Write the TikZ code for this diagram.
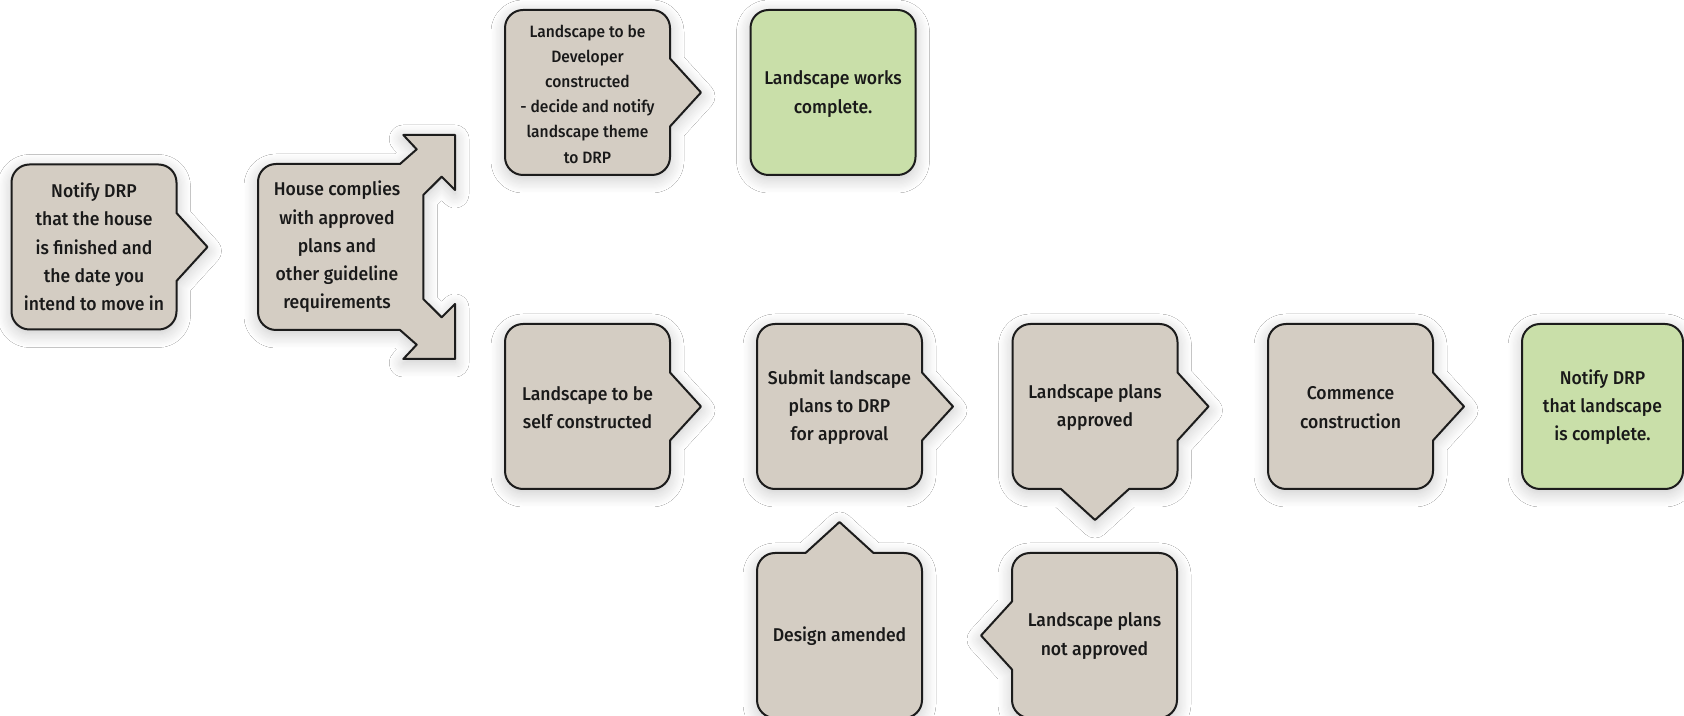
\documentclass[tikz,border=0pt]{standalone}
\usepackage{fontspec}
\setmainfont{Fira Sans Medium}[FakeStretch=0.95]
\usetikzlibrary{shadows.blur}
\definecolor{boxgray}{HTML}{D4CDC3}
\definecolor{boxgreen}{HTML}{C9DFA9}
\definecolor{edge}{HTML}{1C1C1C}
\tikzset{
  shp/.style={fill=#1, draw=edge, line width=2pt, line join=round,
    blur shadow={shadow xshift=0pt, shadow yshift=-4pt, shadow blur radius=14pt, shadow opacity=22, shadow blur steps=12}},
  lbl/.style={align=center, text=black!90, font=\fontsize{18.5}{28.3}\selectfont, inner sep=0pt},
  lblsmall/.style={lbl, font=\fontsize{16.4}{25.2}\selectfont}
}
% #1 centre, #2 half width, #3 fill, #4 bottom insert, #5 right insert, #6 top insert, #7 left insert
\newcommand\callout[7]{%
  \begin{scope}[shift={#1}]
    \path[shp=#3] (-#2+18,-82.5) #4 -- (#2-18,-82.5) arc[start angle=-90,end angle=0,radius=18]
      #5 -- (#2,82.5-18) arc[start angle=0,end angle=90,radius=18]
      #6 -- (-#2+18,82.5) arc[start angle=90,end angle=180,radius=18]
      #7 -- (-#2,-82.5+18) arc[start angle=180,end angle=270,radius=18] -- cycle;
  \end{scope}}
\newcommand\Rarrow{-- (82.5,-34) -- (113.5,0) -- (82.5,34)}
\newcommand\Tarrow{-- (34,82.5) -- (0,113.5) -- (-34,82.5)}
\newcommand\Larrow{-- (-82.5,34) -- (-113.5,0) -- (-82.5,-34)}
\newcommand\Barrow{-- (-34,-82.5) -- (0,-113.5) -- (34,-82.5)}
\begin{document}
\begin{tikzpicture}[x=1pt,y=1pt]
\fill[white] (0,0) rectangle (1684,715);
\useasboundingbox (0,0) rectangle (1684,715);

% shapes
\callout{(94,468)}{82.5}{boxgray}{}{\Rarrow}{}{}
\path[shp=boxgray] (258,533) arc[start angle=180,end angle=90,radius=18]
  -- (400,551) -- (416.7,565.7) -- (403.3,580) -- (455,580) -- (455,525)
  -- (441.7,538.3) -- (423.3,520) -- (423.3,416) -- (441.7,397.7) -- (455,411)
  -- (455,356) -- (403.3,356) -- (416.7,370.3) -- (400,385) -- (276,385)
  arc[start angle=270,end angle=180,radius=18] -- cycle;
\callout{(587.5,622.5)}{82.5}{boxgray}{}{\Rarrow}{}{}
\callout{(833,622.5)}{82.5}{boxgreen}{}{}{}{}
\callout{(587.5,308.5)}{82.5}{boxgray}{}{\Rarrow}{}{}
\callout{(839.5,308.5)}{82.5}{boxgray}{}{\Rarrow}{}{}
\callout{(1095,308.5)}{82.5}{boxgray}{\Barrow}{\Rarrow}{}{}
\callout{(1350.5,308.5)}{82.5}{boxgray}{}{\Rarrow}{}{}
\callout{(1602.5,308.5)}{80.5}{boxgreen}{}{}{}{}
\callout{(839.5,79.5)}{82.5}{boxgray}{}{}{\Tarrow}{}
\callout{(1094.5,79.5)}{82.5}{boxgray}{}{}{}{\Larrow}

% labels
\node[lbl] (notify) at (94,468) {Notify DRP\\that the house\\is finished and\\the date you\\intend to move in};
\node[lbl] (complies) at (337,468) {House complies\\with approved\\plans and\\other guideline\\requirements};
\node[lblsmall] (developer) at (587.5,621) {Landscape to be\\Developer\\constructed\\- decide and notify\\landscape theme\\to DRP};
\node[lbl] (works) at (833,621) {Landscape works\\complete.};
\node[lbl] (self) at (587.5,307.5) {Landscape to be\\self constructed};
\node[lbl] (submit) at (839.5,308) {Submit landscape\\plans to DRP\\for approval};
\node[lbl] (approved) at (1095,307.5) {Landscape plans\\approved};
\node[lbl] (commence) at (1350.5,307.5) {Commence\\construction};
\node[lbl] (notifyland) at (1602.5,308) {Notify DRP\\that landscape\\is complete.};
\node[lbl] (amended) at (839.5,78.5) {Design amended};
\node[lbl] (notapproved) at (1094.5,79) {Landscape plans\\not approved};
\end{tikzpicture}
\end{document}
